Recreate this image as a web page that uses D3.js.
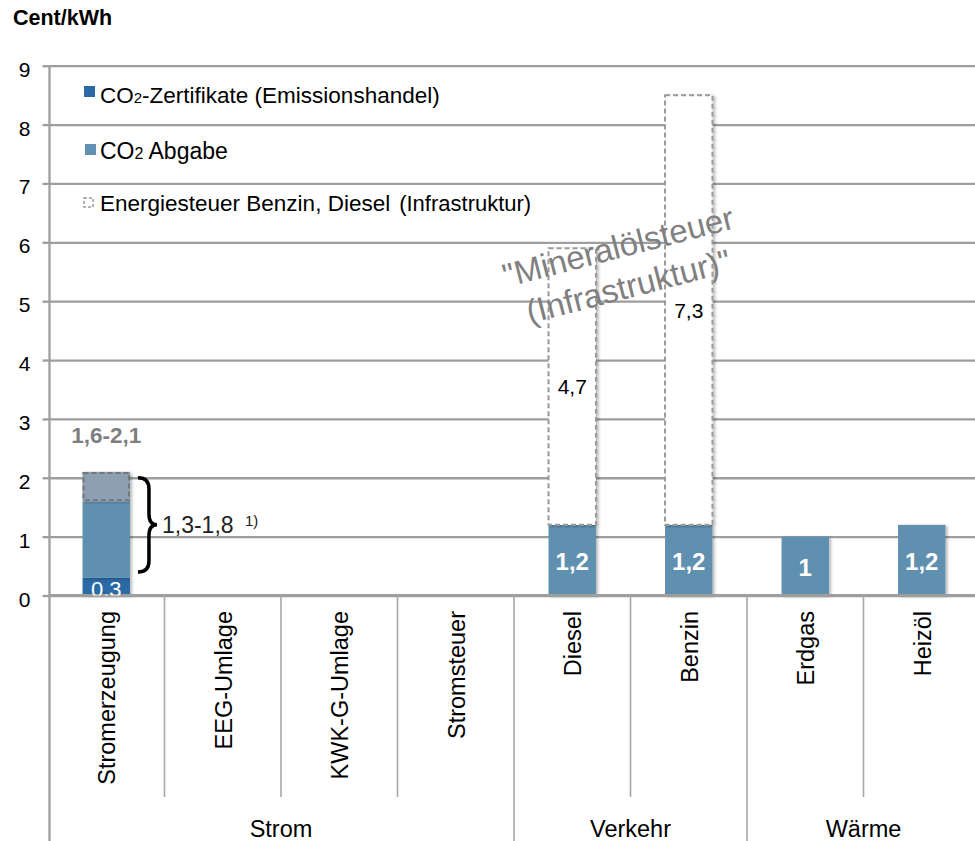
<!DOCTYPE html>
<html>
<head>
<meta charset="utf-8">
<script src="https://cdn.jsdelivr.net/npm/d3@7"></script>
<style>
  html, body { margin: 0; padding: 0; background: #fff; }
  svg { display: block; }
  text { font-family: "Liberation Sans", Arial, sans-serif; }
</style>
</head>
<body>
<svg id="chart" width="975" height="841"></svg>
<script>
// ---- data ----
const categories = ["Stromerzeugung", "EEG-Umlage", "KWK-G-Umlage", "Stromsteuer", "Diesel", "Benzin", "Erdgas", "Heizöl"];
const groupNames = ["Strom", "Verkehr", "Wärme"];
const groupSizes = [4, 2, 2];
const zertifikate   = [0.3, 0, 0, 0, 0,   0,   0,   0];   // CO2-Zertifikate (Emissionshandel)
const abgabe        = [1.3, 0, 0, 0, 1.2, 1.2, 1.0, 1.2]; // CO2 Abgabe
const spanne        = [0.5, 0, 0, 0, 0,   0,   0,   0];   // range 1,6-2,1
const energiesteuer = [0,   0, 0, 0, 4.7, 7.3, 0,   0];   // Energiesteuer (Infrastruktur)
const yTicks = [0, 1, 2, 3, 4, 5, 6, 7, 8, 9];
const legendLabels = ["CO2-Zertifikate (Emissionshandel)", "CO2 Abgabe", "Energiesteuer Benzin, Diesel (Infrastruktur)"];

const fmt = v => String(v).replace(".", ",");

const COL_Z = "#2b6aa6", COL_A = "#6190b0", COL_S = "#8d9fb3";
const GRID = "#9e9e9e", SEP = "#a8a8a8", DASH = "#9a9a9a";

const svg = d3.select("#chart");
const defs = svg.append("defs");
const f = defs.append("filter").attr("id", "sh").attr("x", "-20%").attr("y", "-20%").attr("width", "140%").attr("height", "140%");
f.append("feDropShadow").attr("dx", 2).attr("dy", 1).attr("stdDeviation", 1.5).attr("flood-color", "#000").attr("flood-opacity", 0.28);

const axisX = 49.5;
const x = d3.scaleBand().domain(categories).range([48, 980]).paddingInner(0.593).paddingOuter(0.2965);
const y = d3.scaleLinear().domain([0, 9]).range([595.5, 65.7]);
const step = x.step();
const x0 = 48;

// gridlines
svg.append("g")
  .attr("transform", `translate(${axisX},0)`)
  .call(d3.axisLeft(y).tickValues(yTicks).tickSize(-(975 - axisX)).tickFormat(""))
  .call(g => g.select(".domain").remove())
  .call(g => g.selectAll("line").attr("stroke", GRID).attr("stroke-width", 2.3));

// y axis with labels
svg.append("g")
  .attr("transform", `translate(${axisX},0)`)
  .call(d3.axisLeft(y).tickValues(yTicks).tickSize(7).tickPadding(12).tickFormat(d3.format("d")))
  .call(g => g.select(".domain").remove())
  .call(g => g.selectAll("line").attr("stroke", GRID).attr("stroke-width", 2.3))
  .call(g => g.selectAll("text").attr("font-size", 21).attr("fill", "#000").attr("dy", "0.5em")
      .attr("font-family", '"Liberation Sans", Arial, sans-serif'));

// bars
const bars = svg.append("g");
categories.forEach((c, i) => {
  const bx = x(c), bw = x.bandwidth();
  const z = zertifikate[i], a = abgabe[i], s = spanne[i], e = energiesteuer[i];
  if (z > 0) {
    bars.append("rect").attr("x", bx).attr("y", y(z)).attr("width", bw).attr("height", y(0) - y(z))
      .attr("fill", COL_Z).attr("filter", "url(#sh)");
  }
  if (a > 0) {
    bars.append("rect").attr("x", bx).attr("y", y(z + a)).attr("width", bw).attr("height", y(z) - y(z + a))
      .attr("fill", COL_A).attr("filter", "url(#sh)");
  }
  if (s > 0) {
    bars.append("rect").attr("x", bx).attr("y", y(z + a + s)).attr("width", bw).attr("height", y(z + a) - y(z + a + s))
      .attr("fill", COL_S).attr("filter", "url(#sh)");
    bars.append("rect").attr("x", bx + 1).attr("y", y(z + a + s) + 1).attr("width", bw - 2).attr("height", y(z + a) - y(z + a + s) - 2)
      .attr("fill", "none").attr("stroke", "#767676").attr("stroke-width", 2).attr("stroke-dasharray", "5,3");
  }
  if (e > 0) {
    bars.append("rect").attr("x", bx).attr("y", y(z + a + e)).attr("width", bw).attr("height", y(z + a) - y(z + a + e))
      .attr("fill", "#fff").attr("stroke", DASH).attr("stroke-width", 2).attr("stroke-dasharray", "5,3")
      .attr("filter", "url(#sh)");
  }
});

// axis lines
svg.append("line").attr("x1", axisX).attr("x2", 975).attr("y1", y(0)).attr("y2", y(0)).attr("stroke", GRID).attr("stroke-width", 3);
svg.append("line").attr("x1", axisX).attr("x2", axisX).attr("y1", y(9)).attr("y2", 841).attr("stroke", GRID).attr("stroke-width", 2.3);

// category separators
const sepG = svg.append("g");
let groupBounds = [0];
groupSizes.reduce((acc, n) => { groupBounds.push(acc + n); return acc + n; }, 0);
for (let k = 1; k < categories.length; k++) {
  const sx = x0 + k * step;
  const isGroup = groupBounds.includes(k);
  sepG.append("line").attr("x1", sx).attr("x2", sx).attr("y1", y(0)).attr("y2", isGroup ? 841 : 797)
    .attr("stroke", SEP).attr("stroke-width", 1.6);
}

// category labels
svg.append("g").selectAll("text").data(categories).join("text")
  .attr("transform", d => `translate(${x(d) + x.bandwidth() / 2},611) rotate(-90)`)
  .attr("text-anchor", "end").attr("dy", "0.38em")
  .attr("font-size", 23.5).attr("fill", "#000")
  .text(d => d);

// group labels
let startIdx = 0;
groupNames.forEach((g, gi) => {
  const a = x0 + startIdx * step, b = x0 + (startIdx + groupSizes[gi]) * step;
  svg.append("text").attr("x", (a + b) / 2).attr("y", 837).attr("text-anchor", "middle")
    .attr("font-size", 23.5).attr("fill", "#000").text(g);
  startIdx += groupSizes[gi];
});

// bar value labels
categories.forEach((c, i) => {
  const cx = x(c) + x.bandwidth() / 2;
  const z = zertifikate[i], a = abgabe[i], e = energiesteuer[i];
  if (z > 0) {
    const cp = defs.append("clipPath").attr("id", "clipz" + i);
    cp.append("rect").attr("x", x(c)).attr("y", y(z)).attr("width", x.bandwidth()).attr("height", y(0) - y(z));
    svg.append("text").attr("x", cx).attr("y", y(0) + 1.5).attr("text-anchor", "middle")
      .attr("font-size", 22).attr("fill", "#fff").attr("clip-path", `url(#clipz${i})`).text(fmt(z));
  }
  if (z === 0 && a > 0) {
    svg.append("text").attr("x", cx).attr("y", (y(0) + y(a)) / 2).attr("dy", "0.42em").attr("text-anchor", "middle")
      .attr("font-size", 24).attr("font-weight", "bold").attr("fill", "#fff").text(fmt(a));
  }
  if (e > 0) {
    svg.append("text").attr("x", cx).attr("y", (y(z + a) + y(z + a + e)) / 2).attr("dy", "0.36em").attr("text-anchor", "middle")
      .attr("font-size", 21).attr("fill", "#000").text(fmt(e));
  }
});

// Stromerzeugung annotations
{
  const c = categories[0];
  const cx = x(c) + x.bandwidth() / 2;
  const top = zertifikate[0] + abgabe[0] + spanne[0];
  svg.append("text").attr("x", cx).attr("y", y(top) - 29).attr("text-anchor", "middle")
    .attr("font-size", 22.5).attr("font-weight", "bold").attr("fill", "#7f7f7f")
    .text(fmt(zertifikate[0] + abgabe[0]) + "-" + fmt(top));
  const bxr = x(c) + x.bandwidth();
  const yt = y(2.0), yb = y(0.4), ym = (yt + yb) / 2;
  const p = d3.path();
  p.moveTo(bxr + 8, yt);
  p.quadraticCurveTo(bxr + 19, yt, bxr + 19, yt + 11);
  p.lineTo(bxr + 19, ym - 11);
  p.quadraticCurveTo(bxr + 19, ym, bxr + 27, ym);
  p.quadraticCurveTo(bxr + 19, ym, bxr + 19, ym + 11);
  p.lineTo(bxr + 19, yb - 11);
  p.quadraticCurveTo(bxr + 19, yb, bxr + 8, yb);
  svg.append("path").attr("d", p.toString()).attr("fill", "none").attr("stroke", "#000").attr("stroke-width", 3.5);
  const t = svg.append("text").attr("x", bxr + 32).attr("y", ym + 8).attr("font-size", 23).attr("fill", "#222");
  t.append("tspan").text(fmt(abgabe[0]) + "-" + fmt(abgabe[0] + spanne[0]) + " ");
  t.append("tspan").attr("font-size", 15).attr("dy", -7).attr("dx", 5).text("1)");
}

// rotated annotation
{
  const g = svg.append("g").attr("transform", "translate(626,277) rotate(-14.5)");
  g.append("text").attr("x", 0).attr("y", -20).attr("text-anchor", "middle").attr("font-size", 33).attr("fill", "#808080").text("\"Mineralölsteuer");
  g.append("text").attr("x", 0).attr("y", 21).attr("text-anchor", "middle").attr("font-size", 33).attr("fill", "#808080").text("(Infrastruktur)\"");
}

// legend
{
  const lg = svg.append("g");
  lg.append("rect").attr("x", 84).attr("y", 86).attr("width", 11).attr("height", 11).attr("fill", COL_Z);
  const t1 = lg.append("text").attr("x", 100).attr("y", 103).attr("font-size", 22.5).attr("fill", "#000");
  t1.append("tspan").text("CO");
  t1.append("tspan").attr("font-size", 15).text("2");
  t1.append("tspan").text(legendLabels[0].slice(3));

  lg.append("rect").attr("x", 85).attr("y", 144).attr("width", 11).attr("height", 11).attr("fill", COL_A);
  const t2 = lg.append("text").attr("x", 100).attr("y", 159).attr("font-size", 23).attr("fill", "#000");
  t2.append("tspan").text("CO");
  t2.append("tspan").attr("font-size", 16).text("2");
  t2.append("tspan").text(legendLabels[1].slice(3));

  lg.append("rect").attr("x", 84).attr("y", 198).attr("width", 9).attr("height", 9).attr("fill", "#fff")
    .attr("stroke", DASH).attr("stroke-width", 1.5).attr("stroke-dasharray", "3,2");
  const t3 = lg.append("text").attr("x", 100).attr("y", 211).attr("font-size", 22.5).attr("fill", "#000");
  const parts = legendLabels[2].split(" (");
  t3.append("tspan").text(parts[0]);
  t3.append("tspan").attr("dx", 9).attr("font-size", 22).text("(" + parts[1]);
}

// y unit title
svg.append("text").attr("x", 13).attr("y", 25).attr("font-size", 21.5).attr("font-weight", "bold").attr("fill", "#000").text("Cent/kWh");
</script>
</body>
</html>
